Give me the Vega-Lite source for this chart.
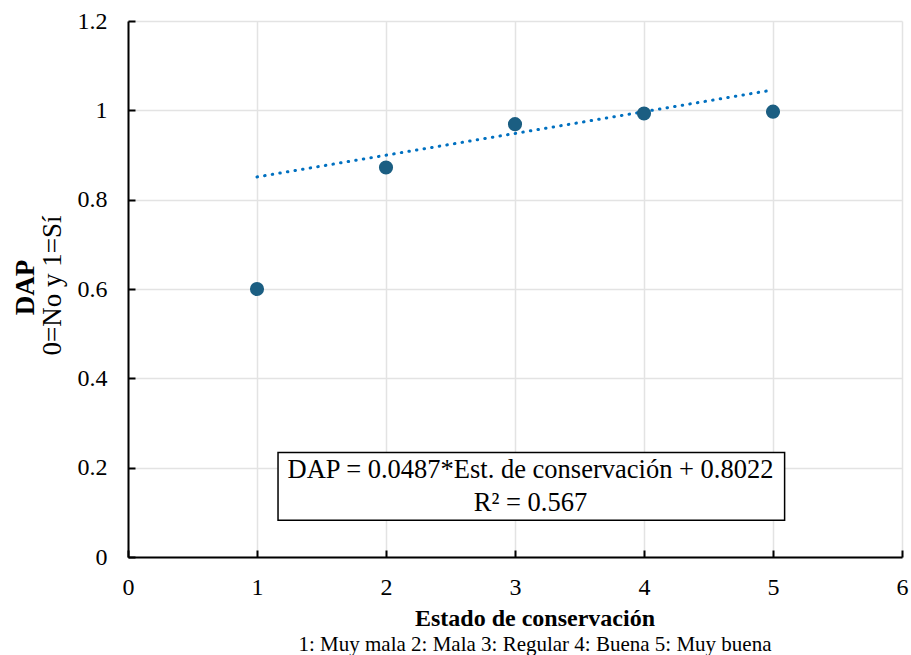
{
  "$schema": "https://vega.github.io/schema/vega-lite/v6.json",
  "width": 774,
  "height": 536,
  "autosize": {"type": "none"},
  "padding": {"left": 128, "top": 21, "right": 9, "bottom": 98},
  "background": "white",
  "config": {
    "font": "Liberation Serif",
    "view": {"stroke": null},
    "axis": {
      "labelFont": "Liberation Serif",
      "labelFontSize": 24,
      "labelColor": "black",
      "labelFlush": false,
      "titleFont": "Liberation Serif",
      "titleColor": "black",
      "domainColor": "black",
      "domainWidth": 2,
      "tickColor": "black",
      "tickWidth": 2,
      "gridColor": "#e3e3e3",
      "gridWidth": 1.5
    }
  },
  "title": {
    "text": "Estado de conservación",
    "subtitle": "1: Muy mala 2: Mala 3: Regular 4: Buena 5: Muy buena",
    "orient": "bottom",
    "anchor": "middle",
    "frame": "group",
    "font": "Liberation Serif",
    "fontSize": 24,
    "fontWeight": "bold",
    "color": "black",
    "subtitleFont": "Liberation Serif",
    "subtitleFontSize": 21,
    "subtitleColor": "black",
    "subtitlePadding": 3,
    "offset": 8,
    "dx": 20
  },
  "datasets": {
    "puntos": [
      {"estado": 1, "dap": 0.600},
      {"estado": 2, "dap": 0.872},
      {"estado": 3, "dap": 0.969},
      {"estado": 4, "dap": 0.993},
      {"estado": 5, "dap": 0.997}
    ],
    "tendencia": [
      {"estado": 1, "dap": 0.8509},
      {"estado": 5, "dap": 1.0457}
    ],
    "anotacion": [
      {"texto": "DAP = 0.0487*Est. de conservación + 0.8022\nR² = 0.567"}
    ]
  },
  "layer": [
    {
      "layer": [
        {
          "data": {"name": "tendencia"},
          "mark": {"type": "line", "color": "#0070C0", "strokeWidth": 3, "strokeDash": [0.5, 7.2], "strokeCap": "round"},
          "encoding": {
            "x": {"field": "estado", "type": "quantitative", "scale": {"domain": [0, 6], "nice": false},
                  "axis": {"title": null, "values": [0, 1, 2, 3, 4, 5, 6], "grid": true, "tickSize": -7, "labelPadding": 25, "format": "~g"}},
            "y": {"field": "dap", "type": "quantitative", "scale": {"domain": [0, 1.2], "nice": false},
                  "axis": {"title": "0=No y 1=Sí", "titleFontSize": 27, "titleFontWeight": "normal", "titlePadding": 11, "titleY": 264,
                           "values": [0, 0.2, 0.4, 0.6, 0.8, 1, 1.2], "grid": true, "tickSize": -7, "labelPadding": 28, "format": "~g"}}
          }
        },
        {
          "data": {"name": "puntos"},
          "mark": {"type": "circle", "size": 200, "color": "#1B5E82", "opacity": 1},
          "encoding": {
            "x": {"field": "estado", "type": "quantitative"},
            "y": {"field": "dap", "type": "quantitative"}
          }
        }
      ]
    },
    {
      "data": {"name": "anotacion"},
      "layer": [
        {
          "mark": {"type": "rect", "fill": "white", "stroke": "black", "strokeWidth": 1.5},
          "encoding": {
            "x": {"datum": 1.163, "type": "quantitative"},
            "x2": {"datum": 5.09},
            "y": {"datum": 0.234, "type": "quantitative", "scale": {"domain": [0, 1.2], "nice": false},
                  "axis": {"orient": "left", "title": "DAP", "titleFontSize": 27, "titleFontWeight": "bold", "titlePadding": 89, "titleY": 266,
                           "labels": false, "ticks": false, "domain": false, "grid": false}},
            "y2": {"datum": 0.082}
          }
        },
        {
          "mark": {"type": "text", "fontSize": 26.5, "lineHeight": 33, "lineBreak": "\n", "align": "center", "baseline": "middle", "color": "black", "font": "Liberation Serif"},
          "encoding": {
            "x": {"datum": 3.12, "type": "quantitative"},
            "y": {"datum": 0.194, "type": "quantitative"},
            "text": {"field": "texto", "type": "nominal"}
          }
        }
      ]
    }
  ],
  "resolve": {"scale": {"y": "independent"}, "axis": {"y": "independent"}}
}
